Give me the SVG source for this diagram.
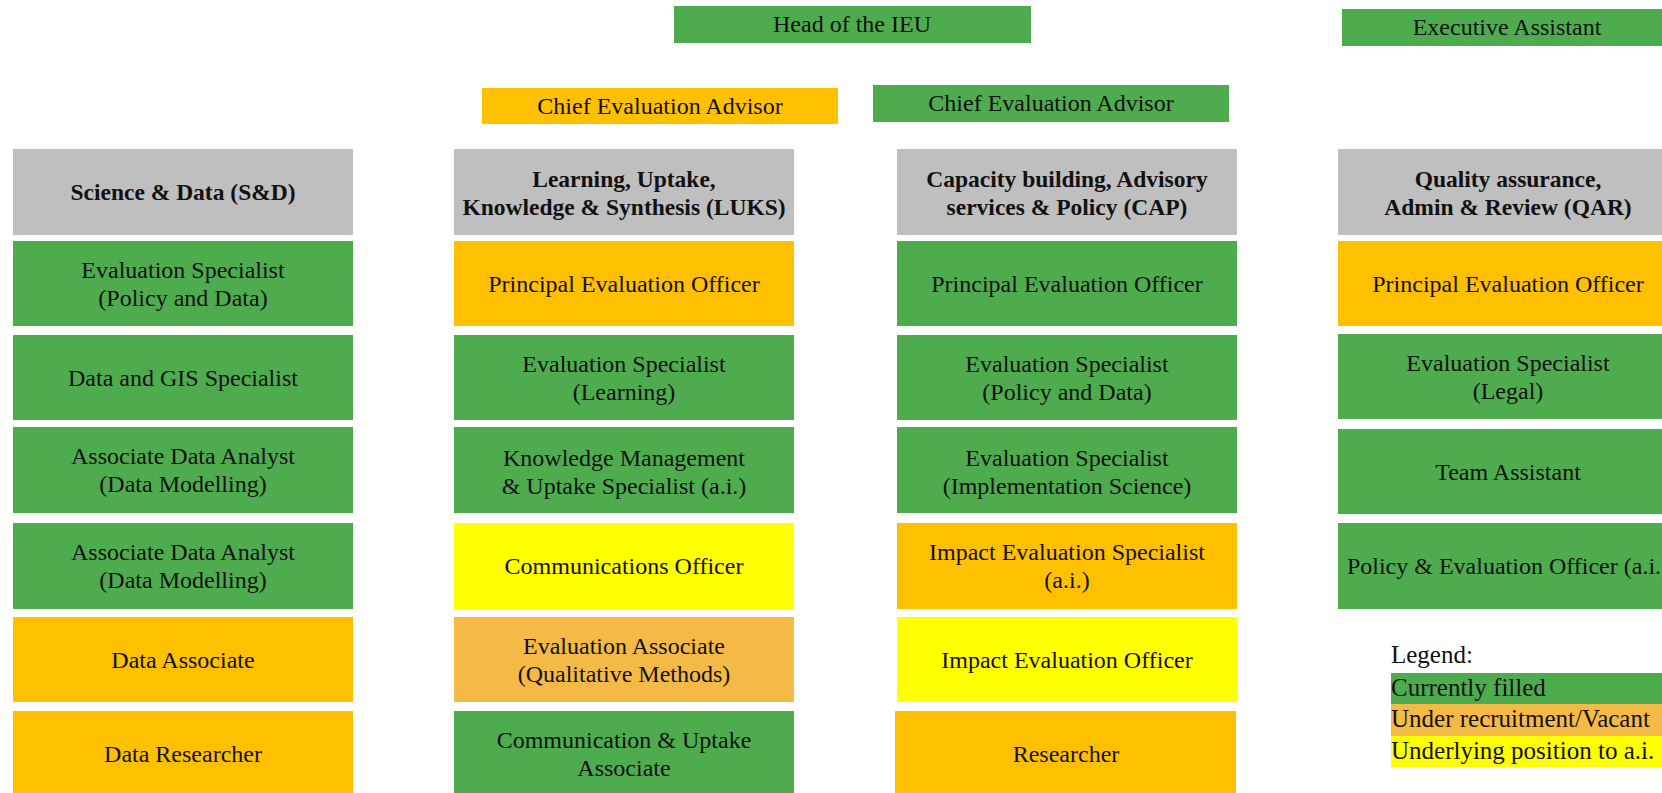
<svg xmlns="http://www.w3.org/2000/svg" width="1662" height="793" viewBox="0 0 1662 793">
<style>
.g{fill:#4EAC4F}.o{fill:#FFC000}.lo{fill:#F5BA45}.y{fill:#FFFF00}.h{fill:#BFBFBF}
text{font-family:"Liberation Serif","DejaVu Serif",serif;font-size:24px;fill:#111;text-anchor:middle}
.b{font-weight:bold;font-size:23.5px}
.l{text-anchor:start;font-size:25px}
</style>
<rect width="1662" height="793" fill="#fff"/>
<g id="head"><rect class="g" x="674" y="6" width="357" height="37"/><text x="852" y="32">Head of the IEU</text></g>
<g id="exec"><rect class="g" x="1342" y="9" width="360" height="37"/><text x="1507" y="35">Executive Assistant</text></g>
<g id="chief1"><rect class="o" x="482" y="88" width="356" height="36"/><text x="660" y="114">Chief Evaluation Advisor</text></g>
<g id="chief2"><rect class="g" x="873" y="85" width="356" height="37"/><text x="1051" y="111">Chief Evaluation Advisor</text></g>
<g id="connectors"></g>

<g id="sd-head"><rect class="h" x="13" y="149" width="340" height="86"/><text class="b" x="183" y="200">Science &amp; Data (S&amp;D)</text></g>
<g id="sd1"><rect class="g" x="13" y="241" width="340" height="85"/><text x="183" y="278">Evaluation Specialist</text><text x="183" y="306">(Policy and Data)</text></g>
<g id="sd2"><rect class="g" x="13" y="335" width="340" height="85"/><text x="183" y="386">Data and GIS Specialist</text></g>
<g id="sd3"><rect class="g" x="13" y="427" width="340" height="86"/><text x="183" y="464">Associate Data Analyst</text><text x="183" y="492">(Data Modelling)</text></g>
<g id="sd4"><rect class="g" x="13" y="523" width="340" height="86"/><text x="183" y="560">Associate Data Analyst</text><text x="183" y="588">(Data Modelling)</text></g>
<g id="sd5"><rect class="o" x="13" y="617" width="340" height="85"/><text x="183" y="668">Data Associate</text></g>
<g id="sd6"><rect class="o" x="13" y="711" width="340" height="90"/><text x="183" y="762">Data Researcher</text></g>

<g id="luks-head"><rect class="h" x="454" y="149" width="340" height="86"/><text class="b" x="624" y="187">Learning, Uptake,</text><text class="b" x="624" y="215">Knowledge &amp; Synthesis (LUKS)</text></g>
<g id="luks1"><rect class="o" x="454" y="241" width="340" height="85"/><text x="624" y="292">Principal Evaluation Officer</text></g>
<g id="luks2"><rect class="g" x="454" y="335" width="340" height="85"/><text x="624" y="372">Evaluation Specialist</text><text x="624" y="400">(Learning)</text></g>
<g id="luks3"><rect class="g" x="454" y="427" width="340" height="86"/><text x="624" y="466">Knowledge Management</text><text x="624" y="494">&amp; Uptake Specialist (a.i.)</text></g>
<g id="luks4"><rect class="y" x="454" y="523" width="340" height="86"/><text x="624" y="574">Communications Officer</text></g>
<g id="luks5"><rect class="lo" x="454" y="617" width="340" height="85"/><text x="624" y="654">Evaluation Associate</text><text x="624" y="682">(Qualitative Methods)</text></g>
<g id="luks6"><rect class="g" x="454" y="711" width="340" height="90"/><text x="624" y="748">Communication &amp; Uptake</text><text x="624" y="776">Associate</text></g>

<g id="cap-head"><rect class="h" x="897" y="149" width="340" height="86"/><text class="b" x="1067" y="187">Capacity building, Advisory</text><text class="b" x="1067" y="215">services &amp; Policy (CAP)</text></g>
<g id="cap1"><rect class="g" x="897" y="241" width="340" height="85"/><text x="1067" y="292">Principal Evaluation Officer</text></g>
<g id="cap2"><rect class="g" x="897" y="335" width="340" height="85"/><text x="1067" y="372">Evaluation Specialist</text><text x="1067" y="400">(Policy and Data)</text></g>
<g id="cap3"><rect class="g" x="897" y="427" width="340" height="86"/><text x="1067" y="466">Evaluation Specialist</text><text x="1067" y="494">(Implementation Science)</text></g>
<g id="cap4"><rect class="o" x="897" y="523" width="340" height="86"/><text x="1067" y="560">Impact Evaluation Specialist</text><text x="1067" y="588">(a.i.)</text></g>
<g id="cap5"><rect class="y" x="897" y="617" width="340" height="85"/><text x="1067" y="668">Impact Evaluation Officer</text></g>
<g id="cap6"><rect class="o" x="895" y="711" width="341" height="90"/><text x="1066" y="762">Researcher</text></g>

<g id="qar-head"><rect class="h" x="1338" y="149" width="341" height="86"/><text class="b" x="1508" y="187">Quality assurance,</text><text class="b" x="1508" y="215">Admin &amp; Review (QAR)</text></g>
<g id="qar1"><rect class="o" x="1338" y="241" width="341" height="85"/><text x="1508" y="292">Principal Evaluation Officer</text></g>
<g id="qar2"><rect class="g" x="1338" y="334" width="341" height="85"/><text x="1508" y="371">Evaluation Specialist</text><text x="1508" y="399">(Legal)</text></g>
<g id="qar3"><rect class="g" x="1338" y="429" width="341" height="85"/><text x="1508" y="480">Team Assistant</text></g>
<g id="qar4"><rect class="g" x="1338" y="523" width="341" height="86"/><text x="1508" y="574">Policy &amp; Evaluation Officer (a.i.)</text></g>

<g id="legend">
<text class="l" x="1391" y="663">Legend:</text>
<rect class="g" x="1391" y="673" width="280" height="31"/><text class="l" x="1391" y="696">Currently filled</text>
<rect class="lo" x="1391" y="704" width="280" height="32"/><text class="l" x="1391" y="727">Under recruitment/Vacant</text>
<rect class="y" x="1391" y="736" width="280" height="31"/><text class="l" x="1391" y="759">Underlying position to a.i.</text>
</g>
</svg>
